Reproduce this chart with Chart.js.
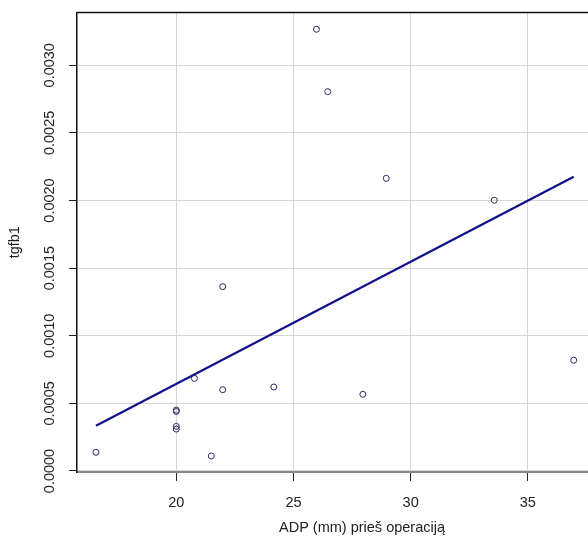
<!DOCTYPE html>
<html>
<head>
<meta charset="utf-8">
<script src="https://cdn.jsdelivr.net/npm/chart.js@4"></script>
<style>
html,body{margin:0;padding:0;background:#fff;overflow:hidden;}
#wrap{width:588px;height:539px;}
</style>
</head>
<body>
<div id="wrap"><canvas id="c" width="588" height="539"></canvas></div>
<script>
// Data
const adpValues = [16.57, 20, 20, 20, 20, 20.77, 21.98, 24.16, 21.49, 21.98, 25.98, 26.46, 28.96, 33.57, 27.96, 36.96];
const tgfb1Values = [0.000138, 0.00045, 0.00044, 0.00033, 0.00031, 0.000685, 0.000601, 0.000621, 0.000111, 0.001363, 0.003266, 0.002805, 0.002164, 0.002002, 0.000567, 0.000819];
const fitX = [16.57, 36.96];
const fitY = [0.000335, 0.002176];
const xTickValues = [20, 25, 30, 35];
const yTickLabels = ["0.0000", "0.0005", "0.0010", "0.0015", "0.0020", "0.0025", "0.0030"];
const xTitle = "ADP (mm) prieš operaciją";
const yTitle = "tgfb1";

const FONT = "'Liberation Sans', Arial, sans-serif";
const TXT = "#222";

const points = adpValues.map((x, i) => ({x: x, y: tgfb1Values[i]}));
const fitLine = fitX.map((x, i) => ({x: x, y: fitY[i]}));

const decor = {
  id: 'decor',
  afterDraw(chart) {
    const ctx = chart.ctx;
    const a = chart.chartArea;
    const ys = chart.scales.y;
    ctx.save();
    // top border
    ctx.strokeStyle = '#111';
    ctx.lineWidth = 1.5;
    ctx.beginPath();
    ctx.moveTo(a.left, a.top);
    ctx.lineTo(chart.width, a.top);
    ctx.stroke();
    // y tick labels (rotated)
    ctx.fillStyle = TXT;
    ctx.font = "14.5px " + FONT;
    ctx.textAlign = 'center';
    ctx.textBaseline = 'middle';
    ys.ticks.forEach((t, i) => {
      const py = ys.getPixelForValue(t.value);
      ctx.save();
      ctx.translate(50, py);
      ctx.rotate(-Math.PI / 2);
      ctx.fillText(yTickLabels[i] !== undefined ? yTickLabels[i] : t.label, 0, 0);
      ctx.restore();
    });
    // y title
    ctx.save();
    ctx.translate(15, (a.top + a.bottom) / 2);
    ctx.rotate(-Math.PI / 2);
    ctx.fillText(yTitle, 0, 0);
    ctx.restore();
    // x title
    ctx.fillText(xTitle, 362, 528);
    ctx.restore();
  }
};

new Chart(document.getElementById('c'), {
  type: 'scatter',
  data: {
    datasets: [
      {
        type: 'line',
        data: fitLine,
        borderColor: '#10108a',
        borderWidth: 2.2,
        pointRadius: 0,
        fill: false,
        clip: false,
        order: 1
      },
      {
        data: points,
        pointStyle: 'circle',
        pointRadius: 3,
        pointBorderWidth: 1,
        pointBorderColor: '#2a2a66',
        pointBackgroundColor: 'rgba(255,255,255,0)',
        order: 0
      }
    ]
  },
  options: {
    responsive: false,
    animation: false,
    events: [],
    layout: {autoPadding: false, padding: {left: 0, right: 0, top: 12.5, bottom: 0}},
    plugins: {legend: {display: false}, tooltip: {enabled: false}, title: {display: false}},
    scales: {
      x: {
        type: 'linear',
        min: 15.76,
        max: 37.57,
        afterBuildTicks(scale) { scale.ticks = xTickValues.map(v => ({value: v})); },
        ticks: {
          font: {size: 14.5, family: FONT},
          color: TXT,
          padding: 13,
          maxRotation: 0,
          callback: v => String(v)
        },
        grid: {
          color: '#d6d6d6',
          lineWidth: 1,
          tickColor: '#222',
          tickLength: 9,
          drawTicks: true
        },
        border: {display: true, color: '#8a8a8a', width: 2},
        afterFit(scale) {
          scale.height = 67;
          scale.paddingLeft = 0;
          scale.paddingRight = 0;
        }
      },
      y: {
        type: 'linear',
        min: -0.0000074,
        max: 0.00339,
        ticks: {
          display: false,
          stepSize: 0.0005,
          includeBounds: false
        },
        grid: {
          color: '#d6d6d6',
          lineWidth: 1,
          tickColor: '#222',
          tickLength: 8,
          drawTicks: true
        },
        border: {display: true, color: '#111', width: 1.5},
        afterFit(scale) {
          scale.width = 77;
          scale.paddingTop = 0;
          scale.paddingBottom = 0;
        }
      }
    }
  },
  plugins: [decor]
});
</script>
</body>
</html>
